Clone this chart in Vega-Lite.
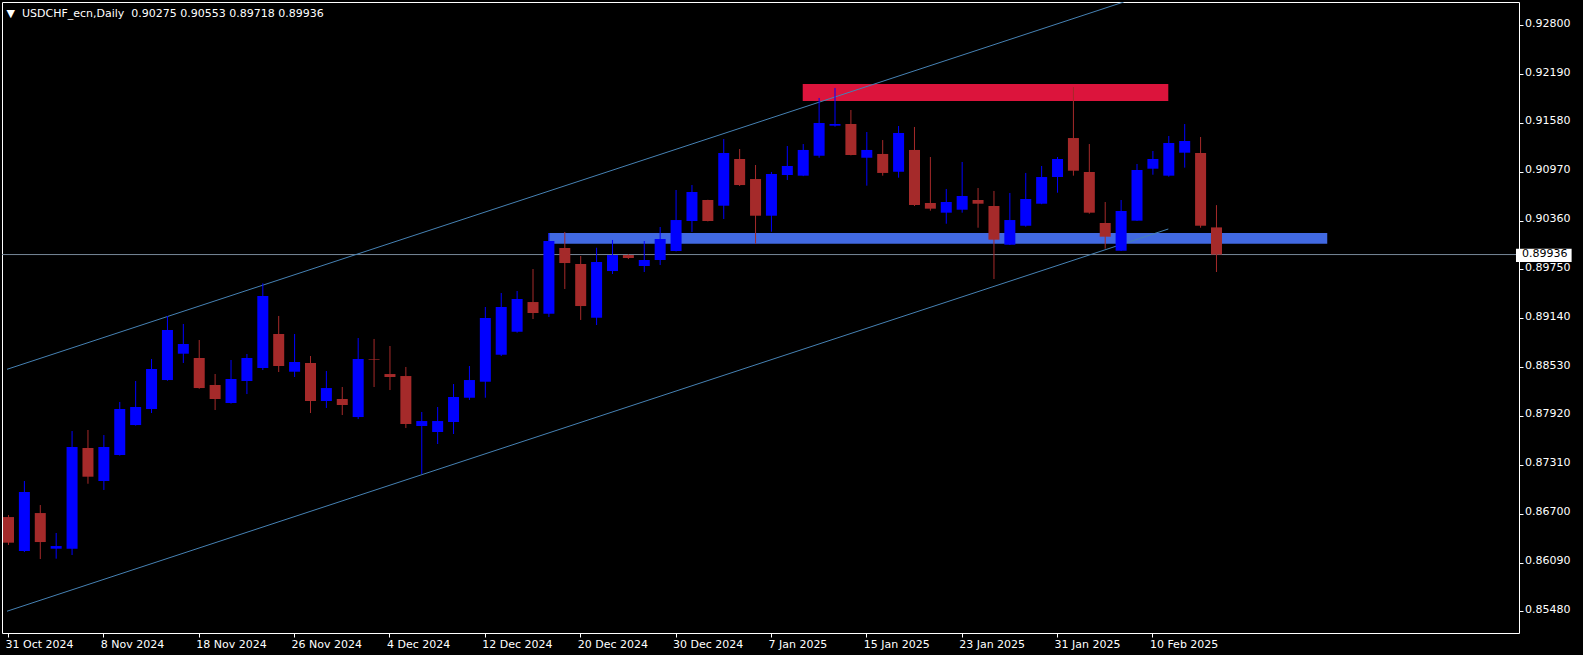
{
  "$schema": "https://vega.github.io/schema/vega-lite/v6.json",
  "width": 1517,
  "height": 631,
  "autosize": {"type": "none"},
  "padding": {"left": 2, "top": 2, "right": 64, "bottom": 22},
  "background": "#000000",
  "config": {
    "view": {"stroke": "#ffffff", "strokeWidth": 1, "fill": "#000000"},
    "font": "DejaVu Sans",
    "axis": {"grid": false, "domain": false, "labelColor": "#ffffff", "tickColor": "#ffffff", "tickSize": 4, "labelFont": "DejaVu Sans", "labelFontSize": 11, "labelOverlap": false, "labelFlush": false, "title": null}
  },
  "datasets": {
    "candles": [
      {"i": 0, "o": 0.86658, "h": 0.86683, "l": 0.86309, "c": 0.86338},
      {"i": 1, "o": 0.86234, "h": 0.87108, "l": 0.86221, "c": 0.86971},
      {"i": 2, "o": 0.86708, "h": 0.86808, "l": 0.86134, "c": 0.86346},
      {"i": 3, "o": 0.86263, "h": 0.86459, "l": 0.86138, "c": 0.86296},
      {"i": 4, "o": 0.86263, "h": 0.87732, "l": 0.86184, "c": 0.87533},
      {"i": 5, "o": 0.87520, "h": 0.87745, "l": 0.87074, "c": 0.87162},
      {"i": 6, "o": 0.87108, "h": 0.87682, "l": 0.86996, "c": 0.87533},
      {"i": 7, "o": 0.87433, "h": 0.88095, "l": 0.87425, "c": 0.88007},
      {"i": 8, "o": 0.87807, "h": 0.88357, "l": 0.87800, "c": 0.88032},
      {"i": 9, "o": 0.88007, "h": 0.88632, "l": 0.87957, "c": 0.88507},
      {"i": 10, "o": 0.88369, "h": 0.89169, "l": 0.88360, "c": 0.88994},
      {"i": 11, "o": 0.88698, "h": 0.89069, "l": 0.88582, "c": 0.88819},
      {"i": 12, "o": 0.88644, "h": 0.88869, "l": 0.88260, "c": 0.88269},
      {"i": 13, "o": 0.88307, "h": 0.88444, "l": 0.87995, "c": 0.88132},
      {"i": 14, "o": 0.88082, "h": 0.88619, "l": 0.88075, "c": 0.88382},
      {"i": 15, "o": 0.88357, "h": 0.88694, "l": 0.88194, "c": 0.88644},
      {"i": 16, "o": 0.88519, "h": 0.89577, "l": 0.88494, "c": 0.89418},
      {"i": 17, "o": 0.88944, "h": 0.89169, "l": 0.88469, "c": 0.88544},
      {"i": 18, "o": 0.88473, "h": 0.88944, "l": 0.88407, "c": 0.88594},
      {"i": 19, "o": 0.88582, "h": 0.88669, "l": 0.87957, "c": 0.88107},
      {"i": 20, "o": 0.88107, "h": 0.88482, "l": 0.88020, "c": 0.88269},
      {"i": 21, "o": 0.88132, "h": 0.88282, "l": 0.87932, "c": 0.88057},
      {"i": 22, "o": 0.87907, "h": 0.88894, "l": 0.87882, "c": 0.88632},
      {"i": 23, "o": 0.88632, "h": 0.88882, "l": 0.88282, "c": 0.88624},
      {"i": 24, "o": 0.88444, "h": 0.88794, "l": 0.88244, "c": 0.88407},
      {"i": 25, "o": 0.88419, "h": 0.88532, "l": 0.87770, "c": 0.87820},
      {"i": 26, "o": 0.87795, "h": 0.87970, "l": 0.87195, "c": 0.87857},
      {"i": 27, "o": 0.87720, "h": 0.88032, "l": 0.87570, "c": 0.87857},
      {"i": 28, "o": 0.87845, "h": 0.88319, "l": 0.87695, "c": 0.88157},
      {"i": 29, "o": 0.88148, "h": 0.88544, "l": 0.88120, "c": 0.88369},
      {"i": 30, "o": 0.88348, "h": 0.89281, "l": 0.88148, "c": 0.89144},
      {"i": 31, "o": 0.88685, "h": 0.89456, "l": 0.88669, "c": 0.89281},
      {"i": 32, "o": 0.88972, "h": 0.89481, "l": 0.88960, "c": 0.89381},
      {"i": 33, "o": 0.89343, "h": 0.89755, "l": 0.89131, "c": 0.89206},
      {"i": 34, "o": 0.89197, "h": 0.90205, "l": 0.89156, "c": 0.90105},
      {"i": 35, "o": 0.90018, "h": 0.90218, "l": 0.89506, "c": 0.89830},
      {"i": 36, "o": 0.89818, "h": 0.89918, "l": 0.89119, "c": 0.89293},
      {"i": 37, "o": 0.89147, "h": 0.90021, "l": 0.89056, "c": 0.89843},
      {"i": 38, "o": 0.89730, "h": 0.90118, "l": 0.89693, "c": 0.89930},
      {"i": 39, "o": 0.89930, "h": 0.89940, "l": 0.89880, "c": 0.89893},
      {"i": 40, "o": 0.89793, "h": 0.90105, "l": 0.89718, "c": 0.89868},
      {"i": 41, "o": 0.89868, "h": 0.90280, "l": 0.89805, "c": 0.90130},
      {"i": 42, "o": 0.89980, "h": 0.90742, "l": 0.89975, "c": 0.90367},
      {"i": 43, "o": 0.90355, "h": 0.90804, "l": 0.90218, "c": 0.90717},
      {"i": 44, "o": 0.90617, "h": 0.90620, "l": 0.90350, "c": 0.90355},
      {"i": 45, "o": 0.90546, "h": 0.91379, "l": 0.90380, "c": 0.91204},
      {"i": 46, "o": 0.91129, "h": 0.91254, "l": 0.90792, "c": 0.90804},
      {"i": 47, "o": 0.90879, "h": 0.91054, "l": 0.90071, "c": 0.90421},
      {"i": 48, "o": 0.90421, "h": 0.90967, "l": 0.90221, "c": 0.90942},
      {"i": 49, "o": 0.90929, "h": 0.91291, "l": 0.90867, "c": 0.91042},
      {"i": 50, "o": 0.90921, "h": 0.91316, "l": 0.90915, "c": 0.91242},
      {"i": 51, "o": 0.91170, "h": 0.91891, "l": 0.91145, "c": 0.91579},
      {"i": 52, "o": 0.91545, "h": 0.92016, "l": 0.91533, "c": 0.91566},
      {"i": 53, "o": 0.91566, "h": 0.91741, "l": 0.91175, "c": 0.91179},
      {"i": 54, "o": 0.91145, "h": 0.91466, "l": 0.90796, "c": 0.91242},
      {"i": 55, "o": 0.91192, "h": 0.91366, "l": 0.90921, "c": 0.90955},
      {"i": 56, "o": 0.90970, "h": 0.91541, "l": 0.90896, "c": 0.91454},
      {"i": 57, "o": 0.91242, "h": 0.91529, "l": 0.90542, "c": 0.90555},
      {"i": 58, "o": 0.90580, "h": 0.91154, "l": 0.90484, "c": 0.90509},
      {"i": 59, "o": 0.90459, "h": 0.90755, "l": 0.90321, "c": 0.90592},
      {"i": 60, "o": 0.90496, "h": 0.91092, "l": 0.90459, "c": 0.90667},
      {"i": 61, "o": 0.90617, "h": 0.90767, "l": 0.90271, "c": 0.90571},
      {"i": 62, "o": 0.90542, "h": 0.90730, "l": 0.89631, "c": 0.90122},
      {"i": 63, "o": 0.90059, "h": 0.90705, "l": 0.90055, "c": 0.90367},
      {"i": 64, "o": 0.90296, "h": 0.90955, "l": 0.90284, "c": 0.90630},
      {"i": 65, "o": 0.90571, "h": 0.91042, "l": 0.90565, "c": 0.90904},
      {"i": 66, "o": 0.90904, "h": 0.91154, "l": 0.90708, "c": 0.91129},
      {"i": 67, "o": 0.91391, "h": 0.92028, "l": 0.90921, "c": 0.90983},
      {"i": 68, "o": 0.90967, "h": 0.91316, "l": 0.90446, "c": 0.90459},
      {"i": 69, "o": 0.90330, "h": 0.90592, "l": 0.90009, "c": 0.90159},
      {"i": 70, "o": 0.89984, "h": 0.90617, "l": 0.89980, "c": 0.90480},
      {"i": 71, "o": 0.90359, "h": 0.91067, "l": 0.90355, "c": 0.90992},
      {"i": 72, "o": 0.91008, "h": 0.91229, "l": 0.90933, "c": 0.91129},
      {"i": 73, "o": 0.90921, "h": 0.91416, "l": 0.90908, "c": 0.91329},
      {"i": 74, "o": 0.91208, "h": 0.91566, "l": 0.91021, "c": 0.91354},
      {"i": 75, "o": 0.91204, "h": 0.91404, "l": 0.90271, "c": 0.90296},
      {"i": 76, "o": 0.90275, "h": 0.90553, "l": 0.89718, "c": 0.89936}
    ],
    "zones": [
      {"name": "resistance", "x1": 50, "x2": 73, "top": 0.92066, "bottom": 0.91853},
      {"name": "support", "x1": 34, "x2": 83, "top": 0.90205, "bottom": 0.90071}
    ],
    "channel": [
      {"line": "upper", "i": -0.0625, "p": 0.88503},
      {"line": "upper", "i": 70.2, "p": 0.93090},
      {"line": "lower", "i": -0.0625, "p": 0.85482},
      {"line": "lower", "i": 73, "p": 0.90255}
    ],
    "level": [
      {"price": 0.89936, "label": "0.89936"}
    ]
  },
  "layer": [
    {
      "data": {"name": "zones"},
      "mark": {"type": "rect"},
      "encoding": {
        "x": {"field": "x1", "type": "quantitative", "scale": {"domain": [-0.0625, 94.75], "nice": false, "zero": false}},
        "x2": {"field": "x2"},
        "y": {"field": "top", "type": "quantitative", "scale": {"domain": [0.852101, 0.930897], "nice": false, "zero": false}},
        "y2": {"field": "bottom"},
        "color": {"field": "name", "type": "nominal", "scale": {"domain": ["resistance", "support"], "range": ["#DC143C", "#4169E1"]}, "legend": null}
      }
    },
    {
      "data": {"name": "level"},
      "mark": {"type": "rule", "color": "#778899", "strokeWidth": 1},
      "encoding": {
        "y": {"field": "price", "type": "quantitative", "scale": {"domain": [0.852101, 0.930897], "nice": false, "zero": false}}
      }
    },
    {
      "data": {"name": "channel"},
      "mark": {"type": "line", "color": "#4682B4", "strokeWidth": 1, "clip": true},
      "encoding": {
        "x": {"field": "i", "type": "quantitative", "scale": {"domain": [-0.0625, 94.75], "nice": false, "zero": false}},
        "y": {"field": "p", "type": "quantitative", "scale": {"domain": [0.852101, 0.930897], "nice": false, "zero": false}},
        "detail": {"field": "line", "type": "nominal"}
      }
    },
    {
      "data": {"name": "candles"},
      "mark": {"type": "rule", "strokeWidth": 1, "xOffset": 0.5},
      "encoding": {
        "x": {
          "field": "i", "type": "quantitative",
          "scale": {"domain": [-0.0625, 94.75], "nice": false, "zero": false},
          "axis": {
            "orient": "bottom",
            "values": [0, 6, 12, 18, 24, 30, 36, 42, 48, 54, 60, 66, 72],
            "labelExpr": "['31 Oct 2024','8 Nov 2024','18 Nov 2024','26 Nov 2024','4 Dec 2024','12 Dec 2024','20 Dec 2024','30 Dec 2024','7 Jan 2025','15 Jan 2025','23 Jan 2025','31 Jan 2025','10 Feb 2025'][round(datum.value/6)]",
            "labelAlign": "left",
            "labelBaseline": "top",
            "labelPadding": 1,
            "labelOffset": -3,
            "title": "▼\u00a0\u00a0USDCHF_ecn,Daily\u00a0\u00a00.90275 0.90553 0.89718 0.89936",
            "titleX": 4,
            "titleY": -620,
            "titleAlign": "left",
            "titleBaseline": "middle",
            "titleAngle": 0,
            "titleColor": "#ffffff",
            "titleFont": "DejaVu Sans",
            "titleFontSize": 11,
            "titleFontWeight": "normal"
          }
        },
        "y": {
          "field": "l", "type": "quantitative",
          "scale": {"domain": [0.852101, 0.930897], "nice": false, "zero": false},
          "axis": {
            "orient": "right",
            "values": [0.928, 0.9219, 0.9158, 0.9097, 0.9036, 0.8975, 0.8914, 0.8853, 0.8792, 0.8731, 0.867, 0.8609, 0.8548],
            "format": ".5f",
            "labelAlign": "left",
            "labelBaseline": "middle",
            "labelPadding": 1.5,
            "labelOffset": -2
          }
        },
        "y2": {"field": "h"},
        "color": {"condition": {"test": "datum.c >= datum.o", "value": "#0000FF"}, "value": "#A52A2A"}
      }
    },
    {
      "data": {"name": "candles"},
      "mark": {"type": "bar", "size": 11, "xOffset": 0.5},
      "encoding": {
        "x": {"field": "i", "type": "quantitative", "scale": {"domain": [-0.0625, 94.75], "nice": false, "zero": false}},
        "y": {"field": "o", "type": "quantitative", "scale": {"domain": [0.852101, 0.930897], "nice": false, "zero": false}},
        "y2": {"field": "c"},
        "color": {"condition": {"test": "datum.c >= datum.o", "value": "#0000FF"}, "value": "#A52A2A"}
      }
    },
    {
      "data": {"name": "level"},
      "mark": {"type": "rect", "color": "#ffffff"},
      "encoding": {
        "x": {"datum": 94.875, "type": "quantitative", "scale": {"domain": [-0.0625, 94.75], "nice": false, "zero": false}},
        "x2": {"datum": 98.375},
        "y": {"datum": 0.90009, "type": "quantitative", "scale": {"domain": [0.852101, 0.930897], "nice": false, "zero": false}},
        "y2": {"datum": 0.89843}
      }
    },
    {
      "data": {"name": "level"},
      "mark": {"type": "text", "color": "#000000", "align": "left", "baseline": "middle", "font": "DejaVu Sans", "fontSize": 11, "dy": -1},
      "encoding": {
        "x": {"datum": 95.25, "type": "quantitative", "scale": {"domain": [-0.0625, 94.75], "nice": false, "zero": false}},
        "y": {"field": "price", "type": "quantitative", "scale": {"domain": [0.852101, 0.930897], "nice": false, "zero": false}},
        "text": {"field": "label", "type": "nominal"}
      }
    }
  ]
}
